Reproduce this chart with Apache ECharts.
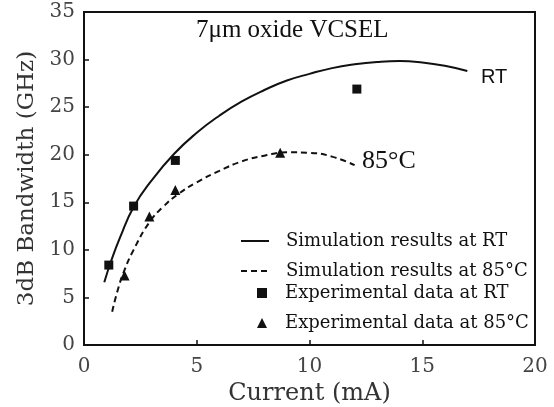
<!DOCTYPE html>
<html>
<head>
<meta charset="utf-8">
<script src="https://cdn.jsdelivr.net/npm/echarts@6/dist/echarts.min.js"></script>
<style>
  html, body { margin: 0; padding: 0; background: #fff; }
  #chart { width: 554px; height: 407px; }
</style>
</head>
<body>
<div id="chart"></div>
<script>
// simulation curves [current mA, bandwidth GHz]
const simRT = [
  [0.9, 6.6], [1.2, 8.8], [1.6, 11.3], [2.2, 14.5], [3, 17.3], [4, 20.1],
  [5, 22.3], [6, 24.1], [7, 25.6], [8, 26.8], [9, 27.8], [10, 28.5],
  [11, 29.1], [12, 29.5], [13, 29.75], [14, 29.85], [15, 29.7], [16, 29.35], [17, 28.8]
];
const sim85 = [
  [1.25, 3.5], [1.5, 5.8], [1.8, 7.9], [2.2, 10.0], [2.9, 12.9], [3.5, 14.5],
  [4.2, 15.9], [5, 17.1], [6, 18.3], [7, 19.3], [8, 19.9], [9, 20.25],
  [10, 20.2], [11, 19.8], [12, 18.9]
];
// measured points
const expRT = [[1.1, 8.4], [2.2, 14.6], [4.05, 19.4], [12.1, 26.9]];
const exp85 = [[1.8, 7.3], [2.9, 13.5], [4.05, 16.3], [8.7, 20.2]];

const names = [
  "Simulation results at RT",
  "Simulation results at 85°C",
  "Experimental data at RT",
  "Experimental data at 85°C"
];
const xTicks = [0, 5, 10, 15, 20];
const yTicks = [0, 5, 10, 15, 20, 25, 30, 35];

const serif = "DejaVu Serif";
const ink = "#111";
const chart = echarts.init(document.getElementById("chart"));

// one legend box per row, rows are not evenly spaced in the figure
function legendRow(name, centerY, left, w, h, pad, hideSymbol) {
  let lg = {
    data: [name],
    left: left,
    top: centerY - 10,
    orient: "vertical",
    itemWidth: w,
    itemHeight: h,
    padding: 0,
    selectedMode: false,
    textStyle: {
      fontFamily: serif,
      fontSize: 18,
      lineHeight: 20,
      color: ink,
      padding: [0, 0, 0, pad],
    },
  };
  if (hideSymbol) {
    // line rows: only the stroke, no marker
    lg.itemStyle = { opacity: 0 };
  }
  return lg;
}

const xMin = xTicks[0], xMax = xTicks[xTicks.length - 1];
const yMin = yTicks[0], yMax = yTicks[yTicks.length - 1];

const option = {
  animation: false,
  grid: {
    left: 84,
    right: 19,
    top: 12,
    bottom: 62,
    outerBoundsMode: "none",
    show: true,
    backgroundColor: "#fff",
    borderColor: ink,
    borderWidth: 2,
  },
  legend: [
    legendRow(names[0], 241, 240, 28, 14, 12, true),
    legendRow(names[1], 271, 240, 28, 14, 12, true),
    legendRow(names[2], 293, 257, 10, 10, 13, false),
    legendRow(names[3], 323, 257, 10, 10, 13, false),
  ],
  xAxis: {
    type: "value",
    min: xMin,
    max: xMax,
    interval: 5,
    name: "Current (mA)",
    nameLocation: "middle",
    nameGap: 36,
    nameTextStyle: { fontFamily: serif, fontSize: 24, color: "#333" },
    axisLine: { show: true, onZero: false, lineStyle: { color: ink, width: 2 } },
    axisTick: { show: true, inside: true, length: 5, lineStyle: { color: ink, width: 1.5 } },
    axisLabel: { fontFamily: serif, fontSize: 20, color: "#444", margin: 12 },
    splitLine: { show: false },
  },
  yAxis: {
    type: "value",
    min: yMin,
    max: yMax,
    interval: 5,
    name: "3dB Bandwidth (GHz)",
    nameLocation: "middle",
    nameGap: 37,
    nameTextStyle: { fontFamily: serif, fontSize: 23, color: "#333" },
    axisLine: { show: true, onZero: false, lineStyle: { color: ink, width: 2 } },
    axisTick: { show: true, inside: true, length: 5, lineStyle: { color: ink, width: 1.5 } },
    axisLabel: { fontFamily: serif, fontSize: 20, color: "#444", margin: 9 },
    splitLine: { show: false },
  },
  series: [
    {
      name: names[0],
      type: "line",
      data: simRT,
      smooth: true,
      symbol: "none",
      clip: false,
      lineStyle: { color: ink, width: 2 },
      itemStyle: { color: ink },
      // plot frame: box over the full axis range
      markArea: {
        silent: true,
        label: { show: false },
        itemStyle: { color: "rgba(0,0,0,0)", borderColor: ink, borderWidth: 2 },
        data: [[{ coord: [xMin, yMax] }, { coord: [xMax, yMin] }]],
      },
    },
    {
      name: names[1],
      type: "line",
      data: sim85,
      smooth: true,
      symbol: "none",
      lineStyle: { color: ink, width: 2, type: [6, 4] },
      itemStyle: { color: ink },
    },
    {
      name: names[2],
      type: "scatter",
      data: expRT,
      symbol: "rect",
      symbolSize: 9,
      itemStyle: { color: ink, opacity: 1 },
    },
    {
      name: names[3],
      type: "scatter",
      data: exp85,
      symbol: "triangle",
      symbolSize: 10,
      itemStyle: { color: ink, opacity: 1 },
    },
  ],
  graphic: [
    {
      type: "text",
      left: 196,
      top: 18,
      style: {
        text: "7μm oxide VCSEL",
        font: '25px "Liberation Serif"',
        fill: ink,
      },
    },
    {
      type: "text",
      left: 481,
      top: 67,
      style: {
        text: "RT",
        font: '20px "Liberation Sans"',
        fill: ink,
      },
    },
    {
      type: "text",
      left: 362,
      top: 148,
      style: {
        text: "85°C",
        font: '26px "Liberation Serif"',
        fill: ink,
      },
    },
  ],
};

chart.setOption(option);
</script>
</body>
</html>
